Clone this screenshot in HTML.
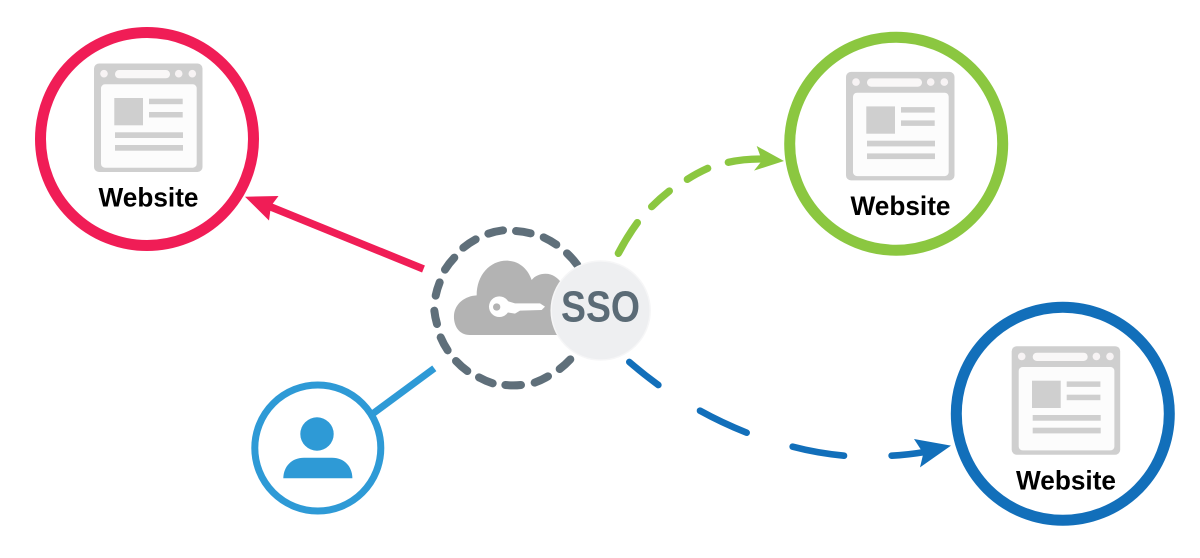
<!DOCTYPE html>
<html>
<head>
<meta charset="utf-8">
<style>
html,body{margin:0;padding:0;background:#fff;width:1200px;height:558px;overflow:hidden}
svg{display:block}
text{font-family:"Liberation Sans",sans-serif}
</style>
</head>
<body>
<svg width="1200" height="558" viewBox="0 0 1200 558" xmlns="http://www.w3.org/2000/svg">
<defs>
<g id="ic">
<rect x="94" y="63.5" width="108.5" height="108.5" rx="5" fill="#cfcfcf"/>
<rect x="101" y="84.3" width="95.7" height="83.4" rx="4" fill="#fcfcfc"/>
<circle cx="104" cy="73.7" r="3.8" fill="#f7f3f4"/>
<circle cx="178.7" cy="73.7" r="3.8" fill="#f7f3f4"/>
<circle cx="192.3" cy="73.7" r="3.8" fill="#f7f3f4"/>
<rect x="115" y="70" width="55" height="8.3" rx="4.1" fill="#f9f7f7"/>
<rect x="114.3" y="98" width="28.7" height="27.3" fill="#cfcfcf"/>
<rect x="149" y="98.7" width="33.7" height="5.5" fill="#cfcfcf"/>
<rect x="149" y="112" width="33.7" height="5.5" fill="#cfcfcf"/>
<rect x="115" y="132.3" width="68" height="5.7" fill="#cfcfcf"/>
<rect x="115" y="145" width="68" height="5.7" fill="#cfcfcf"/>
</g>
</defs>

<!-- red site -->
<circle cx="147" cy="139" r="106.5" fill="#fff" stroke="#f01d56" stroke-width="11"/>
<use href="#ic"/>
<text x="98.5" y="206.7" font-size="27" font-weight="700" fill="#000" textLength="100" lengthAdjust="spacingAndGlyphs">Website</text>

<!-- green site -->
<circle cx="896.2" cy="143.7" r="106.5" fill="#fff" stroke="#8bc740" stroke-width="11"/>
<use href="#ic" transform="translate(752,8.4)"/>
<text x="850.5" y="215" font-size="27" font-weight="700" fill="#000" textLength="100" lengthAdjust="spacingAndGlyphs">Website</text>

<!-- blue site -->
<circle cx="1062.8" cy="413.8" r="106.5" fill="#fff" stroke="#126fba" stroke-width="11"/>
<use href="#ic" transform="translate(917.7,282.7)"/>
<text x="1016" y="489.3" font-size="27" font-weight="700" fill="#000" textLength="100" lengthAdjust="spacingAndGlyphs">Website</text>

<!-- red arrow -->
<line x1="423.5" y1="269" x2="266" y2="205" stroke="#f01d56" stroke-width="7.5"/>
<polygon points="245,196.7 278.5,196 271,206 269,220.5" fill="#f01d56"/>

<!-- user -->
<line x1="373.3" y1="413.3" x2="434.3" y2="368.3" stroke="#2e9ad6" stroke-width="7"/>
<circle cx="317.8" cy="448" r="63" fill="#fff" stroke="#2e9ad6" stroke-width="7"/>
<circle cx="317" cy="434" r="16.7" fill="#2e9ad6"/>
<path d="M283.3,478.3 C283.5,466 292,457.7 304,457.7 L332,457.7 C344,457.7 352.2,466 352.4,478.3 Z" fill="#2e9ad6"/>

<!-- green dashes -->
<g transform="translate(610,130) scale(0.33333)" fill="none" stroke="#8bc740" stroke-width="22" stroke-linecap="round">
<path d="M25,370 Q50,322 82,278"/>
<path d="M125,230 Q150,205 178,183"/>
<path d="M232,148 Q260,130 293,115"/>
<path d="M355,97 Q400,87 450,87"/>
<polygon points="522,93 440,48 456,92 432,122" fill="#8bc740" stroke="none"/>
</g>

<!-- blue dashes -->
<g transform="translate(620,350) scale(0.33333)" fill="none" stroke="#126fba" stroke-width="20" stroke-linecap="round">
<path d="M28,36 Q70,72 115,105"/>
<path d="M240,182 Q305,218 380,248"/>
<path d="M518,290 Q590,309 672,317"/>
<path d="M815,317 Q860,315 915,306"/>
<polygon points="993,287 882,267 910,310 900,352" fill="#126fba" stroke="none"/>
</g>

<!-- dashed ring -->
<g transform="translate(420,220) scale(0.33333)" fill="none" stroke="#5f6f7a" stroke-width="24" stroke-linecap="round">
<path d="M288,33 A232,232 0 0 1 332,40"/>
<path d="M371,52 A232,232 0 0 1 409,74"/>
<path d="M441,100 A232,232 0 0 1 472,135"/>
<path d="M205,41 A232,232 0 0 1 249,31"/>
<path d="M130,83 A232,232 0 0 1 167,58"/>
<path d="M75,149 A232,232 0 0 1 103,113"/>
<path d="M47,227 A232,232 0 0 1 59,187"/>
<path d="M51,312 A232,232 0 0 1 43,272"/>
<path d="M83,391 A232,232 0 0 1 62,352"/>
<path d="M142,453 A232,232 0 0 1 108,423"/>
<path d="M218,490 A232,232 0 0 1 177,472"/>
<path d="M303,495 A232,232 0 0 1 256,495"/>
<path d="M384,469 A232,232 0 0 1 344,488"/>
<path d="M451,418 A232,232 0 0 1 419,447"/>
</g>

<!-- cloud and key -->
<g transform="translate(420,220) scale(0.33333)">
<path d="M150,345 C115,345 100,315 102,285 C105,250 135,228 170,226 C170,165 210,122 260,122 C300,122 325,150 335,180 C350,160 385,155 405,170 C420,180 425,190 430,200 L430,345 Z" fill="#b3b3b3"/>
<circle cx="238" cy="260" r="31" fill="#fff"/>
<polygon points="262,243 285,250 360,250 375,260 365,270 300,272 285,281 262,277" fill="#fff"/>
<circle cx="230" cy="261" r="11" fill="#b3b3b3"/>
</g>

<!-- SSO -->
<circle cx="600.7" cy="310.5" r="49.5" fill="#eeeff1" stroke="#f6f6f7" stroke-width="1.5"/>
<text x="561" y="321.5" font-size="44" font-weight="700" fill="#5b6b76" textLength="79" lengthAdjust="spacingAndGlyphs">SSO</text>
</svg>
</body>
</html>
